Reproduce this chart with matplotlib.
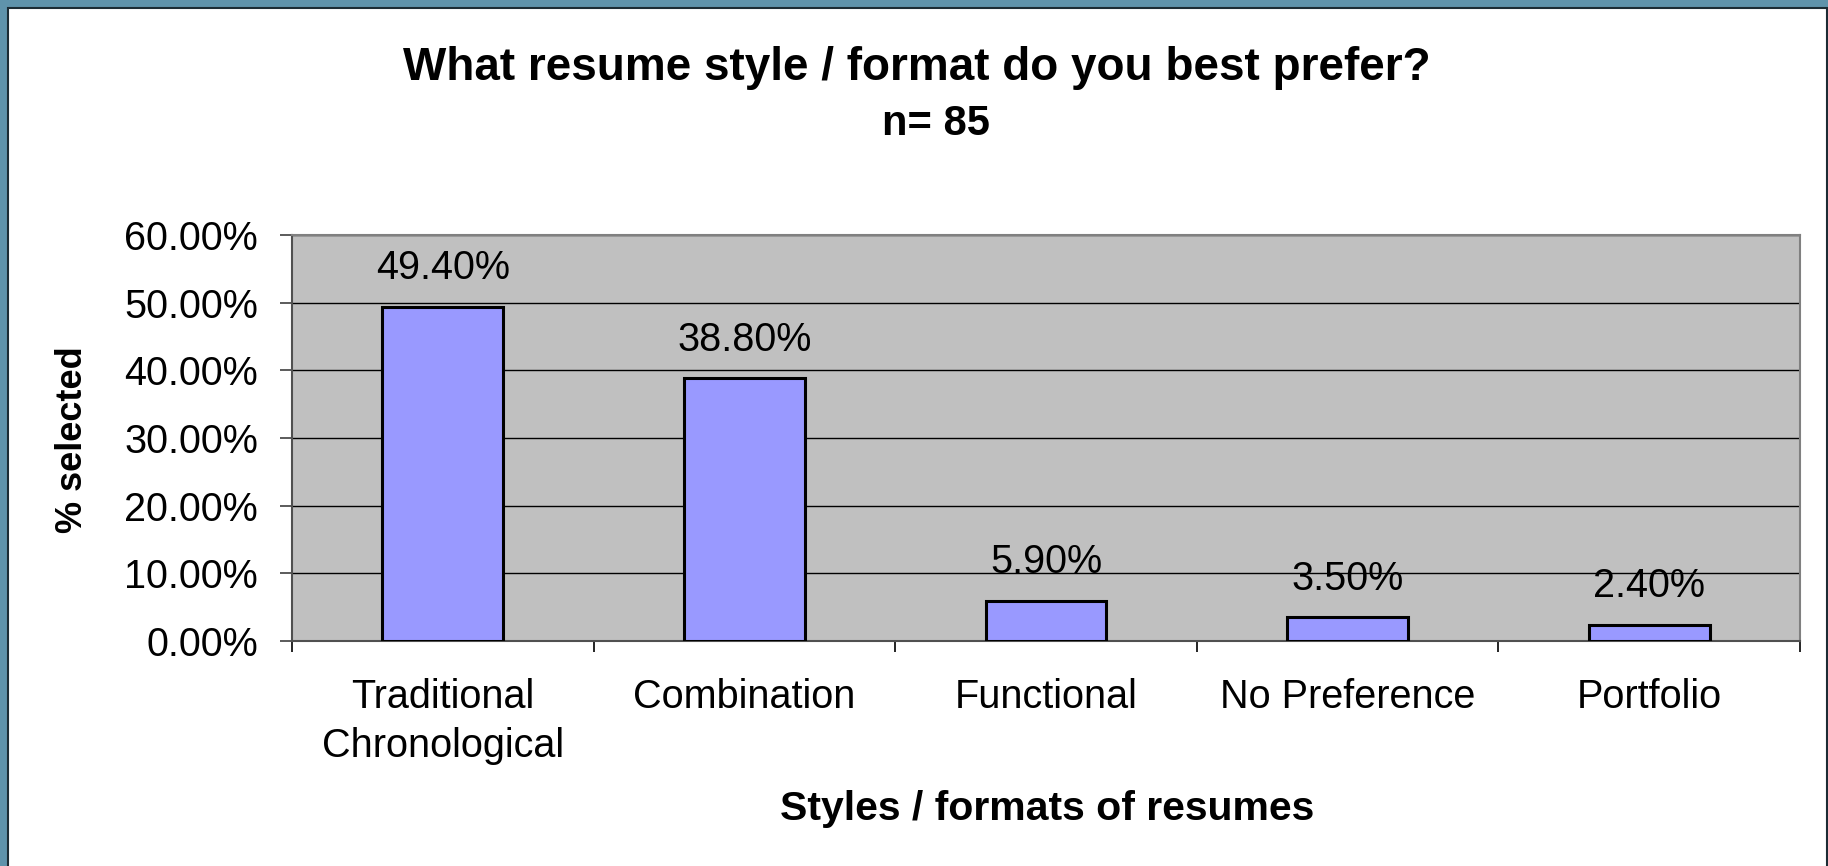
import matplotlib
matplotlib.use("Agg")
import matplotlib.pyplot as plt
from matplotlib.patches import Rectangle
from matplotlib.ticker import FuncFormatter, MultipleLocator, FixedLocator

categories = ["Traditional\nChronological", "Combination", "Functional", "No Preference", "Portfolio"]
values = [0.494, 0.388, 0.059, 0.035, 0.024]
value_labels = ["49.40%", "38.80%", "5.90%", "3.50%", "2.40%"]

plt.rcParams['font.family'] = ['Liberation Sans', 'DejaVu Sans']

W, H = 1828, 866
fig = plt.figure(figsize=(W / 100, H / 100), dpi=100)
fig.patch.set_facecolor('#5f93ab')

# white slide panel with a dark edge (runs off the bottom)
panel = Rectangle((8 / W, -0.05), (W - 9) / W, (H - 8) / H + 0.05, transform=fig.transFigure,
                  facecolor='white', edgecolor='#1c2c34', linewidth=1.5, zorder=0)
fig.patches.append(panel)

ax = fig.add_axes([292 / W, 1 - 641 / H, (1800 - 292) / W, (641 - 235) / H])
ax.set_zorder(2)
ax.set_facecolor('#c0c0c0')

x = range(len(categories))
ax.bar(x, values, width=0.4, color='#9999ff', edgecolor='black', linewidth=2.2, zorder=3)

for i, v in enumerate(values):
    ax.annotate(value_labels[i], (i, v), xytext=(0, 20), textcoords='offset points',
                ha='center', va='baseline', fontsize=28.5, zorder=4)

ax.set_xlim(-0.5, len(categories) - 0.5)
ax.set_ylim(0, 0.6)
ax.yaxis.set_major_locator(MultipleLocator(0.1))
ax.yaxis.set_major_formatter(FuncFormatter(lambda v, p: '{:.2f}%'.format(v * 100)))
ax.grid(axis='y', color='black', linewidth=1.0, zorder=1)
ax.set_axisbelow(True)

ax.set_xticks(list(x))
ax.set_xticklabels(categories, fontsize=28.5, linespacing=1.35)
ax.xaxis.set_minor_locator(FixedLocator([i - 0.5 for i in range(len(categories) + 1)]))
ax.tick_params(axis='x', which='major', length=0, pad=27)
ax.tick_params(axis='x', which='minor', length=8, width=1.2, color='black', direction='out')
ax.tick_params(axis='y', labelsize=28.5, length=8.5, width=1.2, color='#404040', pad=16)

for s in ['top', 'right']:
    ax.spines[s].set_color('#808080')
    ax.spines[s].set_linewidth(1.5)
ax.spines['left'].set_color('#505050')
ax.spines['left'].set_linewidth(1.5)
ax.spines['bottom'].set_color('#505050')
ax.spines['bottom'].set_linewidth(1.5)

fig.text(917 / W, 1 - 80 / H, "What resume style / format do you best prefer?",
         ha='center', va='baseline', fontsize=33, fontweight='bold')
fig.text(936 / W, 1 - 135 / H, "n= 85", ha='center', va='baseline',
         fontsize=30, fontweight='bold')
fig.text(72 / W, 1 - 440 / H, "% selected", rotation=90, ha='center', va='center',
         fontsize=26, fontweight='bold')
fig.text(1047 / W, 1 - 820 / H, "Styles / formats of resumes", ha='center', va='baseline',
         fontsize=29.5, fontweight='bold')

fig.savefig("out.png", dpi=100, facecolor=fig.get_facecolor())
